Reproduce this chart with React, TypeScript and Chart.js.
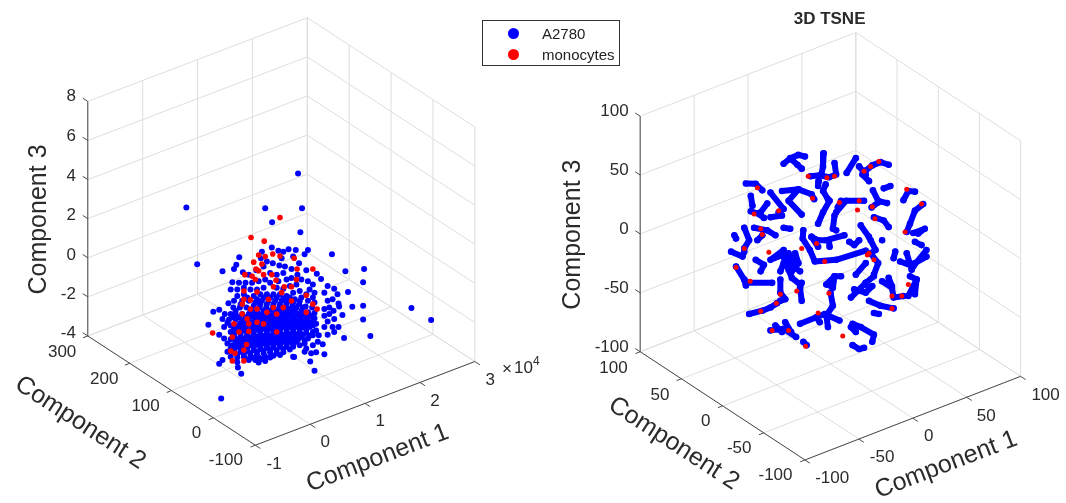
import React, { useEffect, useRef } from "react";
import { Chart, registerables } from "chart.js";

Chart.register(...registerables);

// Values in the plane of the view (the 3D data projected on screen).
const a2780Left: [number, number][] = [
  [895,517],[555,620],[795,623],[907,623],[816,665],[902,696],[588,793],[716,772],[1039,815],[1096,808],[1093,848],[1047,878],[998,763],[925,750],[665,815],[1060,923],[1093,920],[1240,927],[1300,963],[1093,962],[1115,1012],[1035,1018],[661,1203],[722,1127],[945,1118],[712,1108],[655,1097],[622,978],[637,938],
  [785,755],[815,742],[835,752],[850,755],[866,748],[888,750],[880,770],[845,775],[782,775],[800,785],[818,790],[838,797],[855,800],[915,763],[707,795],[700,808],[727,818],[745,825],[768,812],[790,800],[875,808],[898,790],[920,812],[952,822],[965,838],[893,825],[905,840],[850,820],[830,825],[810,820],[835,845],[860,840],[875,835],[925,845],[940,855],[695,848],[715,850],[735,850],[755,850],[775,845],[795,840],[810,850],[985,860],[1005,868],[975,880],[1015,885],
  [690,870],[710,870],[730,865],[750,870],[770,870],[790,865],[830,865],[850,868],[870,860],[890,855],[930,870],[945,880],[710,890],[730,885],[760,890],[780,885],[800,885],[820,885],[840,885],[860,890],[880,880],[900,875],[920,885],[940,895],[1000,900],[985,905],[1018,913],[1020,922],[1003,935],[990,925],[975,930],[700,905],[725,905],[745,905],[765,910],[785,905],[805,905],[825,905],[845,905],[865,905],[885,900],[905,895],[925,905],[945,910],[683,912],[698,925],[718,925],[738,925],[758,930],[778,925],[798,925],[818,925],[838,925],[858,922],[878,920],[898,915],[918,922],[938,925],[975,950],[990,945],[1030,948],
  [655,932],[672,945],[690,945],[705,945],[725,945],[745,945],[765,945],[785,945],[805,945],[825,942],[845,940],[865,938],[885,935],[905,935],[925,940],[945,942],
  [665,960],[685,962],[705,962],[725,965],[745,962],[765,962],[785,960],[805,960],[825,958],[845,955],[865,952],[885,952],[905,952],[925,955],[945,958],[985,968],[1005,960],
  [670,985],[690,980],[710,980],[730,980],[750,978],[770,978],[790,975],[810,975],[830,972],[850,970],[870,968],[890,968],[910,968],[930,970],[950,975],[1018,985],[1000,985],[975,985],
  [655,1008],[690,1000],[710,997],[730,995],[750,995],[770,992],[790,990],[810,990],[830,988],[850,985],[870,985],[890,985],[910,985],[930,985],[950,995],[985,1008],[1005,1000],
  [670,1020],[700,1015],[720,1012],[740,1010],[760,1008],[780,1005],[800,1005],[820,1002],[840,1002],[860,1000],[880,1000],[900,1000],[920,1002],[940,1010],[958,1010],
  [680,1035],[705,1030],[725,1028],[745,1025],[765,1022],[785,1020],[805,1018],[825,1018],[845,1015],[865,1015],[885,1015],[905,1015],[925,1020],[955,1030],[970,1037],
  [690,1050],[710,1045],[730,1045],[750,1040],[770,1038],[790,1035],[810,1032],[830,1032],[850,1030],[870,1030],[890,1030],[915,1035],[940,1040],
  [680,1060],[700,1062],[720,1060],[740,1058],[760,1055],[780,1052],[800,1048],[820,1047],[840,1045],[860,1045],[880,1045],[920,1050],[950,1062],[975,1068],
  [665,1085],[690,1075],[710,1078],[730,1075],[750,1072],[770,1070],[790,1065],[810,1062],[830,1065],[850,1062],[880,1075],[915,1060],[935,1065],[932,1090],
  [710,1092],[745,1085],[765,1085],[785,1082],[775,1093],[795,1088],[820,1072],[840,1070],[883,1076],
  [735,955],[755,953],[775,953],[795,952],[815,950],[835,948],[855,947],[875,945],[895,945],[915,947],[935,950],
  [720,973],[740,972],[760,970],[780,968],[800,967],[820,966],[840,963],[860,962],[880,960],[900,960],[920,962],[940,966],
  [700,990],[720,988],[740,987],[760,985],[780,984],[800,982],[820,980],[840,978],[860,977],[880,976],[900,976],[920,977],[940,980],
  [700,1007],[720,1004],[740,1002],[760,1000],[780,998],[800,997],[820,995],[840,994],[860,992],[880,992],[900,992],[920,993],[940,1000],
  [690,1022],[710,1022],[730,1020],[750,1017],[770,1015],[790,1012],[810,1011],[830,1010],[850,1008],[870,1007],[890,1007],[910,1008],[930,1011],
  [695,1040],[715,1037],[735,1036],[755,1032],[775,1030],[795,1027],[815,1025],[835,1024],[855,1022],[875,1022],[895,1022],[915,1025],
  [700,1055],[720,1052],[740,1050],[760,1047],[780,1044],[800,1041],[820,1040],[840,1038],[860,1037],[880,1037],[900,1040],
  [710,1068],[730,1067],[750,1064],[770,1061],[790,1056],[810,1053],[830,1055],[850,1052],[870,1053],
  [735,1082],[755,1078],[775,1078],[795,1075],[810,1078],
  [760,920],[780,915],[800,915],[820,915],[840,915],[860,912],[880,910],[900,906],[750,937],[770,937],[790,935],[810,934],[830,933],[850,932],[870,930],[890,925],[910,925],
  [740,895],[770,900],[790,895],[810,895],[830,895],[850,897],[870,895],[720,915],[705,935],[715,955],[695,955],[680,972],
];

const monocytesLeft: [number, number][] = [
  [840,651],[752,712],[792,723],[775,765],[795,770],[818,762],[840,768],[883,775],[760,787],[785,793],[767,808],[775,813],[892,808],[940,808],[733,825],[755,830],[765,840],[790,825],[815,825],[828,842],[853,862],[875,862],[890,840],[730,875],[770,878],[820,862],[845,880],[920,888],[730,900],[750,902],[725,915],[750,930],[770,930],[805,900],[875,905],[940,915],[953,930],[725,945],[740,960],[745,975],[700,975],[715,1000],[745,998],[695,1015],[830,1000],[790,975],[770,970],[920,940],[635,1003],[738,1038],[730,1055],[690,1058],[703,1065],[695,1088],[730,1088],[850,925],[820,925],[800,940],[830,945],
];

// Each inner list is one strand of the t-SNE embedding.
const a2780Right: [number, number][][] = [
  [[730,487],[750,470],[775,460],[795,465]],[[755,475],[772,490],[785,502]],
  [[852,455],[850,495],[845,520]],[[812,525],[840,522],[868,528],[890,520],[885,485]],
  [[837,540],[835,555]],[[858,550],[850,570],[865,595]],
  [[922,515],[950,470]],
  [[1050,490],[1025,482],[1000,492],[980,508],[970,520],[990,540]],[[960,495],[980,520]],
  [[1055,555],[1035,562]],
  [[1002,568],[1018,600],[1045,607]],[[1018,605],[998,620]],
  [[1095,598],[1110,570],[1130,572]],
  [[1155,610],[1130,630],[1115,670],[1105,695]],
  [[1125,698],[1160,685],[1140,700]],[[1130,725],[1150,735]],
  [[615,547],[645,548],[665,568]],
  [[630,585],[635,615]],[[630,632],[650,638],[670,652]],[[680,608],[660,635]],
  [[690,575],[730,625],[715,635]],[[725,570],[775,565],[815,580],[823,595]],[[775,565],[745,600],[785,642]],[[690,650],[725,645]],
  [[835,670],[850,635],[870,600]],[[890,635],[920,600],[975,600]],[[885,645],[880,685],[890,690]],[[905,600],[895,620]],
  [[1005,650],[1035,660],[1050,680]],[[965,675],[990,710]],
  [[580,705],[585,715]],[[610,682],[625,720],[610,745]],[[640,682],[680,690],[705,705]],[[730,682],[750,685]],[[665,705],[650,720]],
  [[570,755],[605,770],[610,755]],
  [[690,780],[730,750],[745,790],[780,815]],[[725,760],[745,810],[755,835],[780,855]],[[765,760],[775,790],[755,815]],[[700,775],[745,760],[770,790]],[[730,790],[720,815]],
  [[645,780],[670,795],[660,815]],
  [[585,800],[610,840],[620,850],[695,850]],[[610,840],[615,858]],
  [[720,840],[720,880],[735,900],[720,905]],
  [[785,850],[780,865],[785,905]],
  [[625,945],[665,935],[690,925],[710,912]],
  [[790,690],[788,715],[810,750],[825,785],[890,780],[980,752]],[[815,710],[835,720],[860,720],[915,705]],[[815,710],[835,740]],[[868,720],[870,740]],
  [[930,725],[945,735],[960,720]],
  [[995,720],[1010,750],[995,760],[1018,790],[1005,825]],[[1030,720]],
  [[950,825],[980,790]],[[935,895],[980,850],[1005,830]],[[945,870],[980,880],[1000,860]],[[980,850],[990,865]],
  [[860,855],[885,830],[905,830]],[[885,830],[880,865],[865,855]],
  [[873,880],[880,920],[860,950],[865,985]],[[780,975],[830,955],[855,945],[900,965]],[[830,955],[840,970]],
  [[1030,845],[1060,865],[1065,895],[1095,890]],[[1050,835],[1060,860]],
  [[990,905],[1025,920],[1065,928]],[[1005,942],[1020,945]],
  [[1070,755],[1065,775]],
  [[1085,785],[1125,800],[1165,750]],[[1105,760],[1120,810]],[[1165,770],[1130,790]],
  [[1115,830],[1135,840],[1110,890]],[[1135,840],[1130,885]],
  [[690,995],[730,990],[768,1015]],[[735,970],[753,1000]],[[705,980],[725,1000]],[[790,1030],[800,1040]],
  [[940,975],[965,985],[1005,1008],[1000,1030]],[[935,985],[950,1000]],[[940,1040],[960,1052],[975,1048]],
];

const monocytesRight: [number, number][] = [
  [805,525],[862,530],[1020,480],[1105,565],[1150,610],[1008,655],[1100,695],[818,592],[900,605],[955,628],[610,745],[665,703],[585,803],[628,845],[640,640],[715,630],[660,685],[650,560],[785,745],[830,730],[990,760],[985,765],[868,882],[835,942],[660,937],[708,912],[1060,890],[1090,890],[797,1043],[910,1012],[695,995],[745,995],[1110,855],[1060,928],[1005,780],[720,885],[770,875],[855,785],[685,757],[960,600],[1000,618],[975,510],[995,495],[885,525],
];

const c1TicksLeft = [-1, 0, 1, 2, 3];
const c2TicksLeft = [-100, 0, 100, 200, 300];
const c3TicksLeft = [-4, -2, 0, 2, 4, 6, 8];
const ticksRightC1 = [-100, -50, 0, 50, 100];
const ticksRightC2 = [-100, -50, 0, 50, 100];
const ticksRightC3 = [-100, -50, 0, 50, 100];

type V = { front: number[]; u: number[]; v: number[]; w: number; c1: number[]; c2: number[]; c3: number[] };
type Txt = { s: string; x: number; y: number; size: number; bold?: boolean; rot?: number; align?: CanvasTextAlign };

const leftView: V = { front: [765,1345], u: [668,-255], v: [-510,-333], w: -715, c1: c1TicksLeft, c2: c2TicksLeft, c3: c3TicksLeft };
const rightView: V = { front: [795,1390], u: [657,-255], v: [-502,-330], w: -718, c1: ticksRightC1, c2: ticksRightC2, c3: ticksRightC3 };

const leftText: Txt[] = [
  ...c3TicksLeft.map((t, i) => ({ s: String(t), x: 219, y: [1005,885,765,645,525,403,280][i], size: 17, align: "right" as const })),
  ...c2TicksLeft.map((t, i) => ({ s: String(t), x: [727,600,474,348,220][i], y: [1392,1308,1227,1145,1062][i], size: 17, align: "right" as const })),
  ...c1TicksLeft.map((t, i) => ({ s: String(t), x: [822,978,1145,1312,1480][i], y: [1402,1337,1272,1210,1148][i], size: 17 })),
  { s: "Component 3", x: 108, y: 657, size: 25, rot: -90 },
  { s: "Component 2", x: 232, y: 1277, size: 25, rot: 33 },
  { s: "Component 1", x: 1137, y: 1385, size: 25, rot: -21 },
  { s: "\u00d7", x: 1531, y: 1113, size: 17 },
  { s: "10", x: 1581, y: 1110, size: 17 },
  { s: "4", x: 1620, y: 1090, size: 12 },
];
const rightText: Txt[] = [
  ...ticksRightC3.map((t, i) => ({ s: String(t), x: 258, y: [1047,868,688,507,327][i], size: 17, align: "right" as const })),
  ...ticksRightC2.map((t, i) => ({ s: String(t), x: [757,632,507,382,255][i], y: [1438,1355,1273,1192,1110][i], size: 17, align: "right" as const })),
  ...ticksRightC1.map((t, i) => ({ s: String(t), x: [878,1030,1172,1347,1528][i], y: [1447,1383,1318,1258,1193][i], size: 17 })),
  { s: "Component 3", x: 90, y: 703, size: 25, rot: -90 },
  { s: "Component 2", x: 395, y: 1340, size: 25, rot: 33 },
  { s: "Component 1", x: 1225, y: 1405, size: 25, rot: -21 },
  { s: "3D TSNE", x: 870, y: 47, size: 17, bold: true },
];

const FONT = '"Liberation Sans", Arial, sans-serif';
const gap = { x: NaN, y: NaN };

function project(view: V, a: number, b: number, c: number) {
  const { c1, c2, c3 } = view;
  const p = (a - c1[0]) / (c1[c1.length - 1] - c1[0]);
  const q = (b - c2[0]) / (c2[c2.length - 1] - c2[0]);
  const r = (c - c3[0]) / (c3[c3.length - 1] - c3[0]);
  return { x: view.front[0] + p * view.u[0] + q * view.v[0], y: view.front[1] + p * view.u[1] + q * view.v[1] + r * view.w };
}

function gridLines(view: V) {
  const out: any[] = [];
  const [a0, a1] = [view.c1[0], view.c1[view.c1.length - 1]];
  const [b0, b1] = [view.c2[0], view.c2[view.c2.length - 1]];
  const [c0, c1] = [view.c3[0], view.c3[view.c3.length - 1]];
  const seg = (p: number[], q: number[]) => out.push(project(view, p[0], p[1], p[2]), project(view, q[0], q[1], q[2]), gap);
  view.c1.forEach((t) => { seg([t, b0, c0], [t, b1, c0]); seg([t, b1, c0], [t, b1, c1]); });
  view.c2.forEach((t) => { seg([a0, t, c0], [a1, t, c0]); seg([a1, t, c0], [a1, t, c1]); });
  view.c3.forEach((t) => { seg([a0, b1, t], [a1, b1, t]); seg([a1, b1, t], [a1, b0, t]); });
  return out;
}

function axisLines(view: V) {
  const out: any[] = [];
  const [a0, a1] = [view.c1[0], view.c1[view.c1.length - 1]];
  const [b0, b1] = [view.c2[0], view.c2[view.c2.length - 1]];
  const [c0, c1] = [view.c3[0], view.c3[view.c3.length - 1]];
  const seg = (p: any, q: any) => out.push(p, q, gap);
  seg(project(view, a0, b0, c0), project(view, a1, b0, c0));
  seg(project(view, a0, b0, c0), project(view, a0, b1, c0));
  seg(project(view, a0, b1, c0), project(view, a0, b1, c1));
  const T = 0.03;
  view.c1.forEach((t) => { const p = project(view, t, b0, c0); seg(p, { x: p.x - view.v[0] * T, y: p.y - view.v[1] * T }); });
  view.c2.forEach((t) => { const p = project(view, a0, t, c0); seg(p, { x: p.x - view.u[0] * 0.022, y: p.y - view.u[1] * 0.022 }); });
  view.c3.forEach((t) => { const p = project(view, a0, b1, t); seg(p, { x: p.x + view.v[0] * T, y: p.y + view.v[1] * T }); });
  return out;
}

const toPts = (a: [number, number][]) => a.map(([x, y]) => ({ x, y }));
const strands = (a: [number, number][][]) => a.flatMap((s) => [...toPts(s), gap]);

function makeChart(canvas: HTMLCanvasElement, view: V, texts: Txt[], xMax: number, blue: any, red: [number, number][], redR: number) {
  const textPlugin = {
    id: "viewText",
    afterDatasetsDraw(chart: any) {
      const { ctx, scales } = chart;
      ctx.save();
      ctx.fillStyle = "#2b2b2b";
      ctx.textBaseline = "middle";
      texts.forEach((t) => {
        ctx.save();
        ctx.font = `${t.bold ? "bold " : ""}${t.size}px ${FONT}`;
        ctx.textAlign = t.align || "center";
        ctx.translate(scales.x.getPixelForValue(t.x), scales.y.getPixelForValue(t.y));
        if (t.rot) ctx.rotate((t.rot * Math.PI) / 180);
        ctx.fillText(t.s, 0, 0);
        ctx.restore();
      });
      ctx.restore();
    },
  };
  return new Chart(canvas, {
    type: "scatter",
    data: {
      datasets: [
        { label: "monocytes", data: toPts(red), backgroundColor: "#ff0000", borderWidth: 0, pointRadius: redR, order: 0 },
        { ...blue, order: 1 },
        { label: "axes", data: axisLines(view), showLine: true, borderColor: "#4a4a4a", borderWidth: 1, pointRadius: 0, order: 2 },
        { label: "grid", data: gridLines(view), showLine: true, borderColor: "#dedede", borderWidth: 1, pointRadius: 0, order: 3 },
      ] as any,
    },
    options: {
      animation: false,
      responsive: false,
      layout: { padding: 0 },
      plugins: { legend: { display: false }, tooltip: { enabled: false } },
      scales: {
        x: { type: "linear", display: false, min: 0, max: xMax },
        y: { type: "linear", display: false, min: 0, max: 1509, reverse: true },
      },
    },
    plugins: [textPlugin],
  } as any);
}

const canvasStyle = (left: number, width: number): React.CSSProperties => ({
  position: "absolute", left, top: 0, width, height: 503, display: "block", filter: "blur(0.45px)",
});

export default function App() {
  const a = useRef<HTMLCanvasElement>(null);
  const b = useRef<HTMLCanvasElement>(null);
  useEffect(() => {
    const c1 = makeChart(a.current!, leftView, leftText, 1680,
      { label: "A2780", data: toPts(a2780Left), backgroundColor: "#0000ff", borderWidth: 0, pointRadius: 3 }, monocytesLeft, 2.8);
    const c2 = makeChart(b.current!, rightView, rightText, 1578,
      { label: "A2780", data: strands(a2780Right), showLine: true, borderColor: "#0000ff", borderWidth: 6, borderCapStyle: "round", borderJoinStyle: "round", backgroundColor: "#0000ff", pointRadius: 3.3, pointBorderWidth: 0 }, monocytesRight, 2.5);
    return () => { c1.destroy(); c2.destroy(); };
  }, []);
  const dot = (top: number, color: string): React.CSSProperties => ({ position: "absolute", left: 25, top, width: 11, height: 11, borderRadius: "50%", background: color });
  const label = (top: number): React.CSSProperties => ({ position: "absolute", left: 59, top, lineHeight: "18px", font: `15px/18px ${FONT}`, color: "#222" });
  return (
    <>
      <canvas ref={a} width={560} height={503} style={canvasStyle(0, 560)} />
      <canvas ref={b} width={526} height={503} style={canvasStyle(540, 526)} />
      <div style={{ position: "absolute", left: 482, top: 20, width: 136, height: 44, border: "1px solid #333", background: "#fff", filter: "blur(0.35px)" }}>
        <span style={dot(6.5, "#0000ff")} />
        <span style={label(4)}>A2780</span>
        <span style={dot(28, "#ff0000")} />
        <span style={label(25)}>monocytes</span>
      </div>
    </>
  );
}
